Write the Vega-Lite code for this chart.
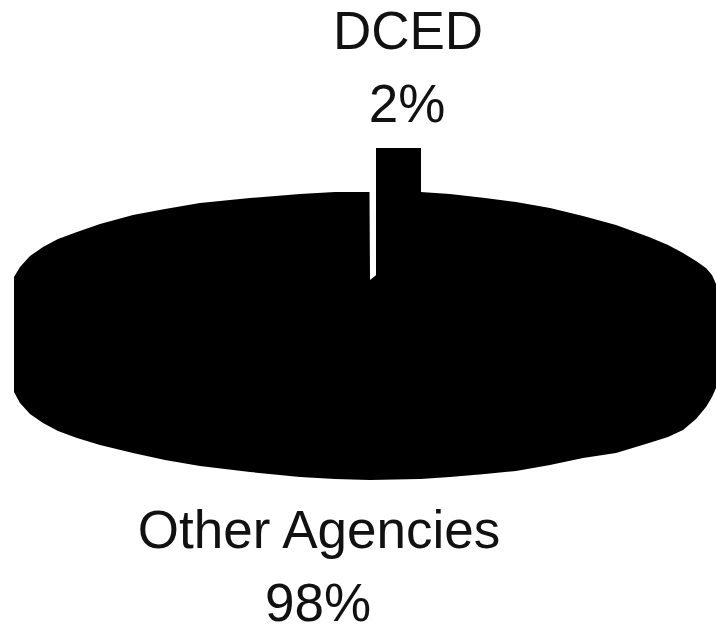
{"$schema":"https://vega.github.io/schema/vega-lite/v6.json","width":716,"height":635,"padding":0,"autosize":{"type":"fit","contains":"padding"},"background":"white","view":{"stroke":null},
"layer":[
{"data":{"values":[
{"slice":"Other Agencies","x":14,"top":277,"bottom":392},
{"slice":"Other Agencies","x":20,"top":267,"bottom":403},
{"slice":"Other Agencies","x":30,"top":256,"bottom":414},
{"slice":"Other Agencies","x":43,"top":247,"bottom":423},
{"slice":"Other Agencies","x":58,"top":239,"bottom":431},
{"slice":"Other Agencies","x":77,"top":232,"bottom":438},
{"slice":"Other Agencies","x":100,"top":224,"bottom":445},
{"slice":"Other Agencies","x":133,"top":215,"bottom":453},
{"slice":"Other Agencies","x":165,"top":209,"bottom":460},
{"slice":"Other Agencies","x":200,"top":203,"bottom":466},
{"slice":"Other Agencies","x":250,"top":198,"bottom":472},
{"slice":"Other Agencies","x":300,"top":194,"bottom":477},
{"slice":"Other Agencies","x":335,"top":192,"bottom":479},
{"slice":"Other Agencies","x":369.5,"top":192,"bottom":480},
{"slice":"Other Agencies","x":370,"top":280,"bottom":480},
{"slice":"Other Agencies","x":420,"top":240,"bottom":479},
{"slice":"Other Agencies","x":420.5,"top":192,"bottom":479},
{"slice":"Other Agencies","x":450,"top":194,"bottom":477},
{"slice":"Other Agencies","x":485,"top":198,"bottom":474},
{"slice":"Other Agencies","x":516,"top":202,"bottom":471},
{"slice":"Other Agencies","x":550,"top":208,"bottom":465},
{"slice":"Other Agencies","x":583,"top":216,"bottom":458},
{"slice":"Other Agencies","x":616,"top":225,"bottom":453},
{"slice":"Other Agencies","x":649,"top":237,"bottom":443},
{"slice":"Other Agencies","x":668,"top":245,"bottom":437},
{"slice":"Other Agencies","x":683,"top":253,"bottom":430},
{"slice":"Other Agencies","x":696,"top":261,"bottom":419},
{"slice":"Other Agencies","x":706,"top":268,"bottom":407},
{"slice":"Other Agencies","x":712,"top":275,"bottom":397},
{"slice":"Other Agencies","x":716,"top":284,"bottom":388},
{"slice":"DCED","x":376,"top":148,"bottom":280},
{"slice":"DCED","x":421,"top":148,"bottom":280}
]},
"mark":{"type":"area","interpolate":"linear","color":"#000000","strokeWidth":0},
"encoding":{"detail":{"field":"slice"},
"x":{"field":"x","type":"quantitative","scale":{"domain":[0,716],"nice":false,"zero":false},"axis":null},
"y":{"field":"top","type":"quantitative","scale":{"domain":[635,0],"nice":false,"zero":false},"axis":null},
"y2":{"field":"bottom"}}},
{"data":{"values":[
{"label":"DCED","x":408,"y":33},
{"label":"2%","x":407,"y":106},
{"label":"Other Agencies","x":319,"y":532},
{"label":"98%","x":318,"y":605}
]},
"mark":{"type":"text","font":"Liberation Sans","fontSize":53,"color":"#111111","align":"center","baseline":"middle"},
"encoding":{"text":{"field":"label"},
"x":{"field":"x","type":"quantitative","scale":{"domain":[0,716],"nice":false,"zero":false},"axis":null},
"y":{"field":"y","type":"quantitative","scale":{"domain":[635,0],"nice":false,"zero":false},"axis":null}}}
]}
